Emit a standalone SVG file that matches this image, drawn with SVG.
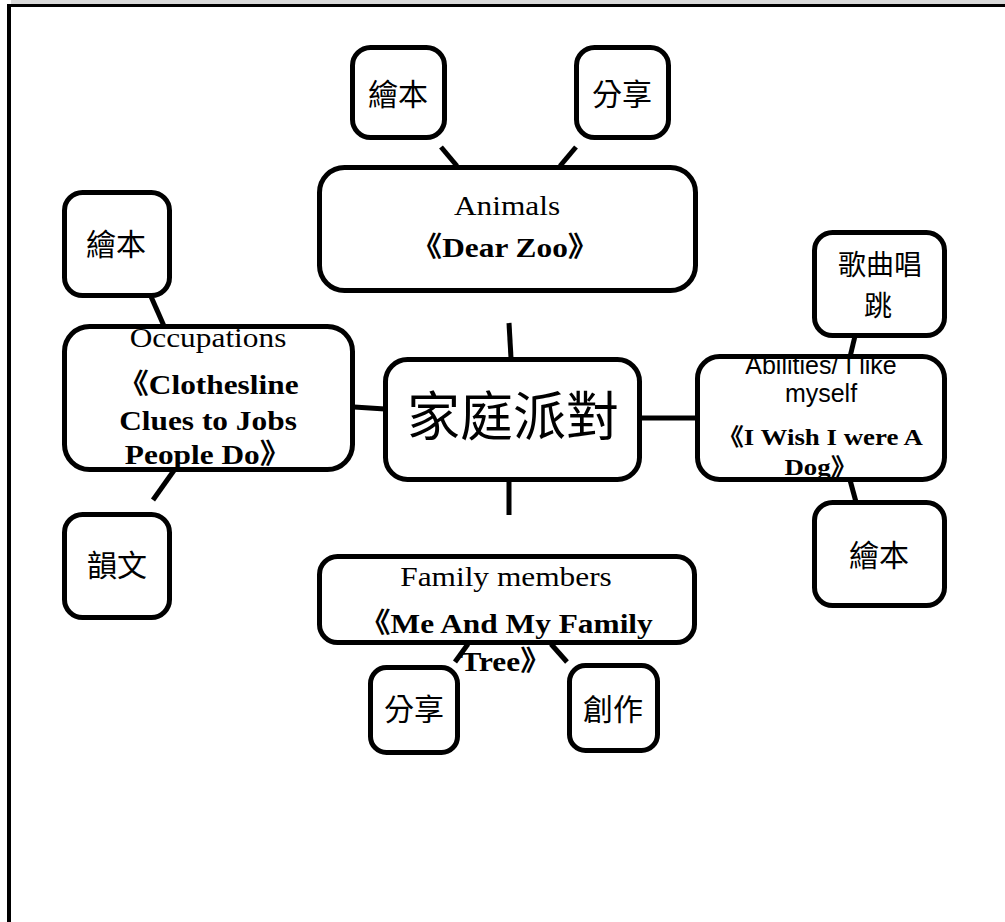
<svg xmlns="http://www.w3.org/2000/svg" width="1005" height="922" viewBox="0 0 1005 922">
<style>
.box{fill:#fff;stroke:#000;stroke-width:5}
.con line{stroke:#000;stroke-width:5;stroke-linecap:butt}
.cjk{font-family:"Noto Sans CJK TC","Noto Sans CJK SC",sans-serif;font-size:30px;text-anchor:middle;fill:#000}
.big{font-size:53px}
.mid{font-size:28px}
.s{font-family:"Liberation Serif","Noto Sans CJK TC",serif;font-size:28px;text-anchor:middle;fill:#000}
.b{font-weight:bold}
.sm{font-size:24px}
.sans{font-family:"Liberation Sans",Arial,sans-serif;font-size:25px;text-anchor:middle;fill:#000}
</style>
<rect x="0" y="0" width="1005" height="922" fill="#fff"/>
<g id="frame">
<rect x="11" y="0" width="994" height="4" fill="#d9d9d9"/>
<rect x="7" y="4" width="998" height="3" fill="#000"/>
<rect x="7" y="4" width="4" height="918" fill="#000"/>
</g>
<g id="connectors" class="con">
<line x1="441" y1="147" x2="457" y2="166"/>
<line x1="576" y1="147" x2="560" y2="166"/>
<line x1="509" y1="323" x2="511" y2="358"/>
<line x1="509" y1="481" x2="509" y2="515"/>
<line x1="354" y1="407" x2="385" y2="409"/>
<line x1="640" y1="418" x2="697" y2="418"/>
<line x1="149" y1="292" x2="164" y2="326"/>
<line x1="175" y1="469" x2="153" y2="500"/>
<line x1="855" y1="336" x2="850" y2="357"/>
<line x1="850" y1="480" x2="856" y2="502"/>
<line x1="468" y1="644" x2="455" y2="662"/>
<line x1="551" y1="644" x2="567" y2="662"/>
</g>
<g id="n-center">
<rect class="box" x="385.5" y="359.5" width="254" height="120" rx="22"/>
<text class="cjk big" x="513" y="436">家庭派對</text>
</g>
<g id="n-animals">
<rect class="box" x="319.5" y="167.5" width="376" height="123" rx="25"/>
<text class="s" transform="translate(507 215) scale(1.12 1)">Animals</text>
<text class="s b" transform="translate(505 257) scale(1.12 1)">《Dear Zoo》</text>
</g>
<g id="n-animals-book">
<rect class="box" x="352.5" y="47.5" width="92" height="90" rx="18"/>
<text class="cjk" x="398" y="105">繪本</text>
</g>
<g id="n-animals-share">
<rect class="box" x="576.5" y="47.5" width="92" height="90" rx="18"/>
<text class="cjk" x="622" y="105">分享</text>
</g>
<g id="n-occupations">
<rect class="box" x="64.5" y="326.5" width="288" height="143" rx="25"/>
<text class="s" transform="translate(208 347) scale(1.12 1)">Occupations</text>
<text class="s b" transform="translate(208 394) scale(1.12 1)">《Clothesline</text>
<text class="s b" transform="translate(208 430) scale(1.12 1)">Clues to Jobs</text>
<text class="s b" transform="translate(208 464) scale(1.12 1)">People Do》</text>
</g>
<g id="n-occ-book">
<rect class="box" x="64.5" y="192.5" width="105" height="103" rx="18"/>
<text class="cjk" x="116" y="255">繪本</text>
</g>
<g id="n-occ-rhyme">
<rect class="box" x="64.5" y="514.5" width="105" height="103" rx="18"/>
<text class="cjk" x="117" y="576">韻文</text>
</g>
<g id="n-abilities">
<rect class="box" x="697.5" y="356.5" width="247" height="123" rx="22"/>
<text class="sans" x="821" y="374">Abilities/ I like</text>
<text class="sans" x="821" y="402">myself</text>
<text class="s b sm" transform="translate(820 445) scale(1.12 1)">《I Wish I were A</text>
<text class="s b sm" transform="translate(821 475) scale(1.12 1)">Dog》</text>
</g>
<g id="n-abilities-song">
<rect class="box" x="814.5" y="232.5" width="130" height="103" rx="18"/>
<text class="cjk mid"><tspan x="880" y="275">歌曲唱</tspan><tspan x="878" y="316">跳</tspan></text>
</g>
<g id="n-abilities-book">
<rect class="box" x="814.5" y="502.5" width="130" height="103" rx="18"/>
<text class="cjk" x="879" y="566">繪本</text>
</g>
<g id="n-family">
<rect class="box" x="319.5" y="556.5" width="375" height="86" rx="18"/>
<text class="s" transform="translate(506 586) scale(1.12 1)">Family members</text>
<text class="s b" transform="translate(506 633) scale(1.12 1)">《Me And My Family</text>
<text class="s b" transform="translate(506 671) scale(1.12 1)">Tree》</text>
</g>
<g id="n-family-share">
<rect class="box" x="370.5" y="667.5" width="87" height="85" rx="16"/>
<text class="cjk" x="414" y="720">分享</text>
</g>
<g id="n-family-create">
<rect class="box" x="569.5" y="665.5" width="88" height="85" rx="16"/>
<text class="cjk" x="613" y="720">創作</text>
</g>
</svg>
